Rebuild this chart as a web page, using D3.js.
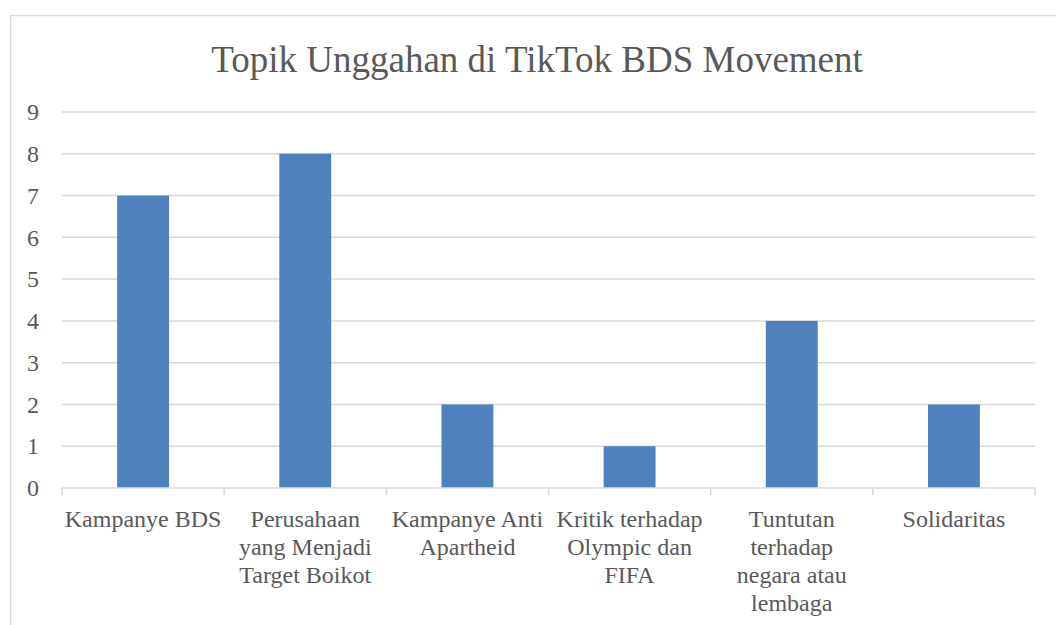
<!DOCTYPE html>
<html>
<head>
<meta charset="utf-8">
<script src="https://cdn.jsdelivr.net/npm/d3@7"></script>
<style>
  body { margin: 0; background: #fff; }
  svg text { font-family: "Liberation Serif", "DejaVu Serif", serif; fill: #595959; }
</style>
</head>
<body>
<div id="chart"></div>
<script>
// data
const categories = ["Kampanye BDS", "Perusahaan yang Menjadi Target Boikot", "Kampanye Anti Apartheid",
  "Kritik terhadap Olympic dan FIFA", "Tuntutan terhadap negara atau lembaga", "Solidaritas"];
const values = [7, 8, 2, 1, 4, 2];
const tickLabels = [
  ["Kampanye BDS"],
  ["Perusahaan", "yang Menjadi", "Target Boikot"],
  ["Kampanye Anti", "Apartheid"],
  ["Kritik terhadap", "Olympic dan", "FIFA"],
  ["Tuntutan", "terhadap", "negara atau", "lembaga"],
  ["Solidaritas"]
];
const yTicks = [0, 1, 2, 3, 4, 5, 6, 7, 8, 9];
const title = "Topik Unggahan di TikTok BDS Movement";

const width = 1056;
const height = 625;
const margin = { top: 112, right: 21, bottom: 137, left: 62 };

const svg = d3.select("#chart")
  .append("svg")
  .attr("width", width)
  .attr("height", height);

// chart border
svg.append("rect")
  .attr("x", 10.5)
  .attr("y", 15.5)
  .attr("width", width)
  .attr("height", height)
  .attr("fill", "none")
  .attr("stroke", "#d9d9d9")
  .attr("stroke-width", 1.5);

// title
svg.append("text")
  .attr("x", 537)
  .attr("y", 72)
  .attr("text-anchor", "middle")
  .style("font-size", "37px")
  .text(title);

const xScale = d3.scaleBand()
  .domain(categories)
  .range([margin.left, width - margin.right])
  .padding(0);

const yScale = d3.scaleLinear()
  .domain([0, 9])
  .range([height - margin.bottom, margin.top]);

// gridlines
svg.append("g")
  .selectAll("line")
  .data(yTicks.filter(d => d > 0))
  .enter()
  .append("line")
  .attr("x1", margin.left)
  .attr("x2", width - margin.right)
  .attr("y1", d => yScale(d))
  .attr("y2", d => yScale(d))
  .attr("stroke", "#d9d9d9")
  .attr("stroke-width", 1.5);

// y axis labels
const yAxis = svg.append("g")
  .attr("transform", `translate(${margin.left - 23}, 0)`)
  .call(d3.axisLeft(yScale).tickValues(yTicks).tickSize(0).tickPadding(0));
yAxis.select(".domain").remove();
yAxis.selectAll("text")
  .style("font-size", "24px")
  .attr("font-family", null)
  .attr("fill", "#595959");

// bars
const barW = xScale.bandwidth() * 0.32;
svg.selectAll(".bar")
  .data(values)
  .enter()
  .append("rect")
  .attr("class", "bar")
  .attr("x", (d, i) => xScale(categories[i]) + (xScale.bandwidth() - barW) / 2)
  .attr("y", d => yScale(d))
  .attr("width", barW)
  .attr("height", d => yScale(0) - yScale(d))
  .attr("fill", "#4f81bd");

// x axis line + tick marks at category boundaries
const y0 = yScale(0);
svg.append("line")
  .attr("x1", margin.left)
  .attr("x2", width - margin.right)
  .attr("y1", y0)
  .attr("y2", y0)
  .attr("stroke", "#d9d9d9")
  .attr("stroke-width", 1.5);

const bounds = categories.map(c => xScale(c)).concat([xScale.range()[1]]);
svg.append("g")
  .selectAll("line")
  .data(bounds)
  .enter()
  .append("line")
  .attr("x1", d => d)
  .attr("x2", d => d)
  .attr("y1", y0)
  .attr("y2", y0 + 7)
  .attr("stroke", "#d9d9d9")
  .attr("stroke-width", 1.5);

// category labels
const labels = svg.append("g")
  .selectAll("text")
  .data(tickLabels)
  .enter()
  .append("text")
  .attr("text-anchor", "middle")
  .style("font-size", "24px")
  .attr("x", (d, i) => xScale(categories[i]) + xScale.bandwidth() / 2)
  .attr("y", y0 + 39);

labels.selectAll("tspan")
  .data(d => d)
  .enter()
  .append("tspan")
  .attr("x", function () { return d3.select(this.parentNode).attr("x"); })
  .attr("dy", (d, i) => i === 0 ? 0 : 28)
  .text(d => d);
</script>
</body>
</html>
